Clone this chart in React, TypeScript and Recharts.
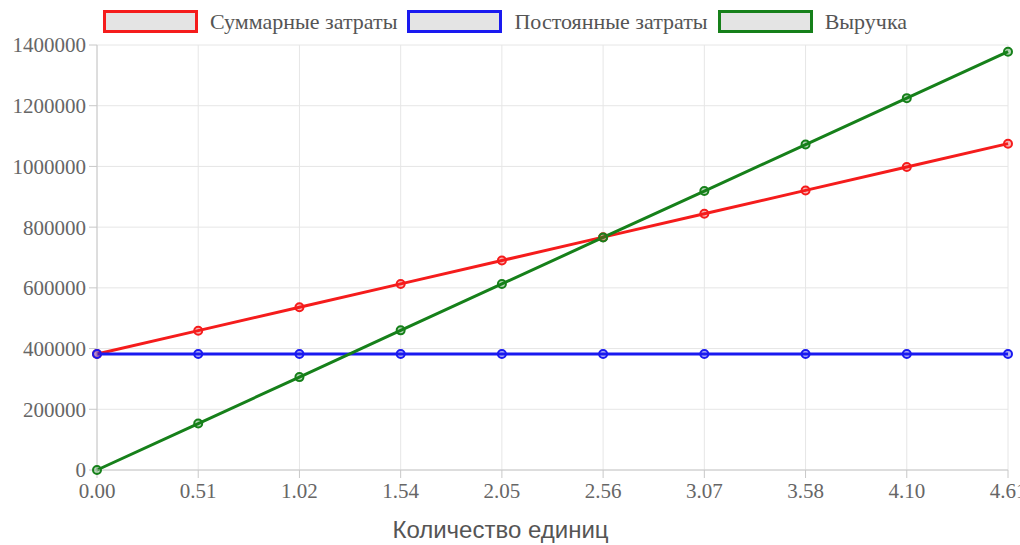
import React from "react";
import {
  LineChart,
  Line,
  XAxis,
  YAxis,
  CartesianGrid,
  Legend,
} from "recharts";

const units = ["0.00", "0.51", "1.02", "1.54", "2.05", "2.56", "3.07", "3.58", "4.10", "4.61"];
const totalCosts = [382000, 459000, 536000, 613000, 690000, 767000, 844000, 921000, 998000, 1075000];
const fixedCosts = [382000, 382000, 382000, 382000, 382000, 382000, 382000, 382000, 382000, 382000];
const revenue = [0, 153000, 306000, 460000, 613000, 766000, 919000, 1072000, 1225000, 1378000];
const yTicks = [0, 200000, 400000, 600000, 800000, 1000000, 1200000, 1400000];

const series = [
  { key: "total", name: "Суммарные затраты", color: "#f51c1c", fill: "rgba(245,28,28,0.3)" },
  { key: "fixed", name: "Постоянные затраты", color: "#1a1af0", fill: "rgba(26,26,240,0.3)" },
  { key: "revenue", name: "Выручка", color: "#16801a", fill: "rgba(22,128,26,0.3)" },
];

const data = units.map((u, i) => ({
  units: u,
  total: totalCosts[i],
  fixed: fixedCosts[i],
  revenue: revenue[i],
}));

const serif = "'Liberation Serif', 'Times New Roman', serif";

function LegendBoxes() {
  return (
    <div
      style={{
        display: "flex",
        justifyContent: "center",
        alignItems: "center",
        height: 33,
        paddingLeft: 12,
        fontFamily: serif,
        fontSize: 22,
        color: "#555",
        whiteSpace: "nowrap",
      }}
    >
      {series.map((s) => (
        <div key={s.key} style={{ display: "flex", alignItems: "center", marginRight: 10 }}>
          <span
            style={{
              display: "inline-block",
              width: 89,
              height: 17,
              border: `3px solid ${s.color}`,
              background: "#e4e4e4",
              marginRight: 12,
            }}
          />
          <span>{s.name}</span>
        </div>
      ))}
    </div>
  );
}

function AxisTitle(props: any) {
  const vb = props.viewBox || {};
  return (
    <text
      x={vb.x + vb.width / 2 - 52}
      y={vb.y + vb.height - 7}
      textAnchor="middle"
      fontFamily="'Liberation Sans', Arial, sans-serif"
      fontSize={24}
      fill="#555"
    >
      Количество единиц
    </text>
  );
}

export default function App() {
  return (
    <div style={{ position: "absolute", left: 0, top: 0, background: "#fff" }}>
      <LineChart
        width={1020}
        height={545}
        data={data}
        margin={{ top: 12, right: 12, left: 0, bottom: 0 }}
      >
        <CartesianGrid stroke="#e6e6e6" strokeWidth={1} />
        <XAxis
          dataKey="units"
          height={75}
          stroke="#c8c8c8"
          tickSize={8}
          tickMargin={5}
          tick={{ fill: "#666", fontFamily: serif, fontSize: 21 }}
          interval={0}
          label={<AxisTitle />}
        />
        <YAxis
          width={97}
          domain={[0, 1400000]}
          ticks={yTicks}
          stroke="#c8c8c8"
          tickSize={8}
          tickMargin={3}
          tick={{ fill: "#666", fontFamily: serif, fontSize: 21 }}
          interval={0}
        />
        <Legend verticalAlign="top" content={<LegendBoxes />} wrapperStyle={{ top: 5 }} />
        {series.map((s) => (
          <Line
            key={s.key}
            type="linear"
            dataKey={s.key}
            name={s.name}
            stroke={s.color}
            strokeWidth={3}
            dot={{ r: 4, stroke: s.color, strokeWidth: 2, fill: s.fill }}
            isAnimationActive={false}
          />
        ))}
      </LineChart>
    </div>
  );
}
